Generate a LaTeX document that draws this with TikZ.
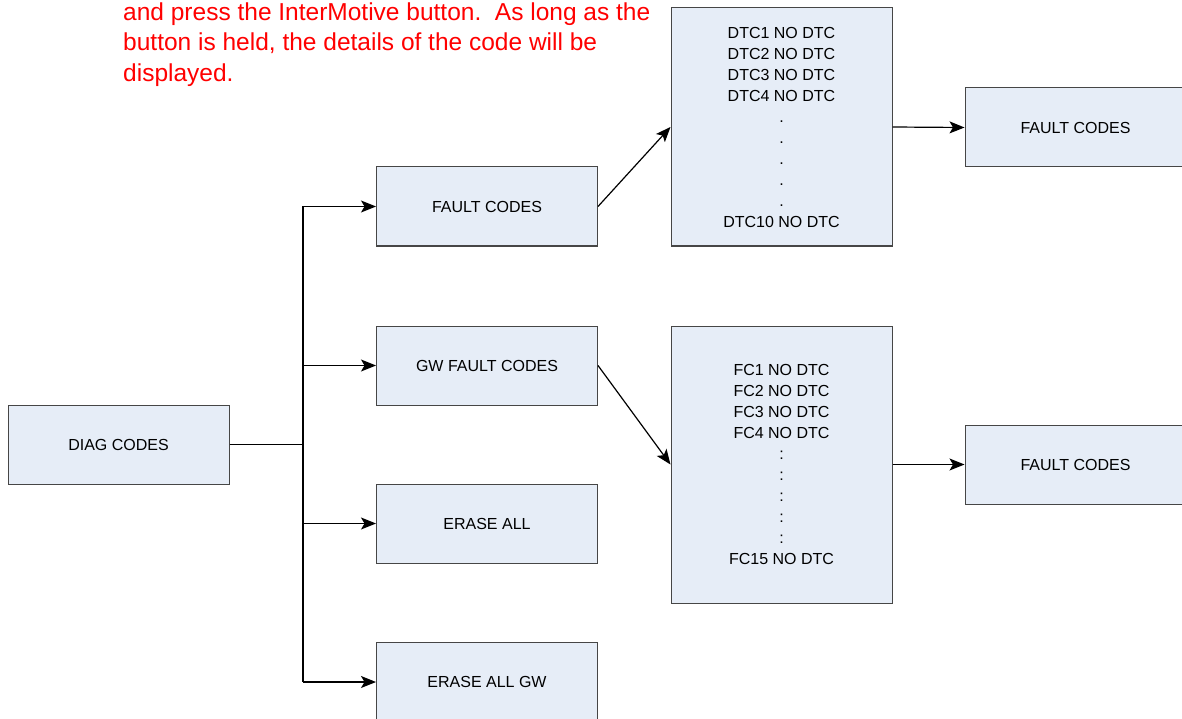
\documentclass[tikz,border=0pt]{standalone}
\usepackage{fontspec}
\setmainfont{Liberation Sans}
\usetikzlibrary{arrows.meta}
\definecolor{boxfill}{RGB}{230,237,247}
\definecolor{boxline}{RGB}{70,70,70}
\begin{document}
\begin{tikzpicture}[x=1pt,y=-1pt,
  blk/.style={draw=boxline,line width=1pt,fill=boxfill,minimum width=221pt,minimum height=79pt,inner sep=0pt,font=\fontsize{16}{21}\selectfont,align=center},
  tall/.style={blk,minimum height=#1},
  conn/.style={line width=1.2pt,black},
  arr/.style={conn,-{Stealth[length=15pt,width=12pt,inset=3.5pt]}}]
\clip (0,0) rectangle (1182,719);
\fill[white] (0,0) rectangle (1182,719);
% red note
\node[anchor=base west,inner sep=0pt,text=red,font=\fontsize{24.5}{30.5}\selectfont,align=left] (note) at (123,81.5)
 {and press the InterMotive button.\ \ As long as the\\button is held, the details of the code will be\\displayed.};
% boxes
\node[blk] (diag) at (118.5,444.5) {DIAG CODES};
\node[blk] (fc) at (487,206.5) {FAULT CODES};
\node[blk] (gw) at (487,365.5) {GW FAULT CODES};
\node[blk] (ea) at (487,523.5) {ERASE ALL};
\node[blk] (eagw) at (487,682) {ERASE ALL GW};
\node[tall=238pt] (dtc) at (781.5,127) {DTC1 NO DTC\\DTC2 NO DTC\\DTC3 NO DTC\\DTC4 NO DTC\\.\\.\\.\\.\\.\\DTC10 NO DTC};
\node[tall=277pt] (fcl) at (781.5,464.5) {FC1 NO DTC\\FC2 NO DTC\\FC3 NO DTC\\FC4 NO DTC\\:\\:\\:\\:\\:\\FC15 NO DTC};
\node[blk] (out1) at (1075.5,127.5) {FAULT CODES};
\node[blk] (out2) at (1075.5,464.5) {FAULT CODES};
% connectors
\coordinate (bus) at (303,444.5);
\coordinate (btop) at (303,206.5);
\coordinate (bbot) at (303,682);
\draw[conn] (diag.east) -- (bus);
\draw[conn] (btop) -- (bbot);
\draw[arr] (btop) -- (fc.west);
\draw[arr] (gw.west -| bus) -- (gw.west);
\draw[arr] (ea.west -| bus) -- (ea.west);
\draw[arr] (bbot) -- (eagw.west);
\draw[arr] (fc.east) -- (dtc.west);
\draw[arr] (gw.east) -- (fcl.west);
\draw[arr] (dtc.east) -- (out1.west);
\draw[arr] (fcl.east) -- (out2.west);
\end{tikzpicture}
\end{document}
